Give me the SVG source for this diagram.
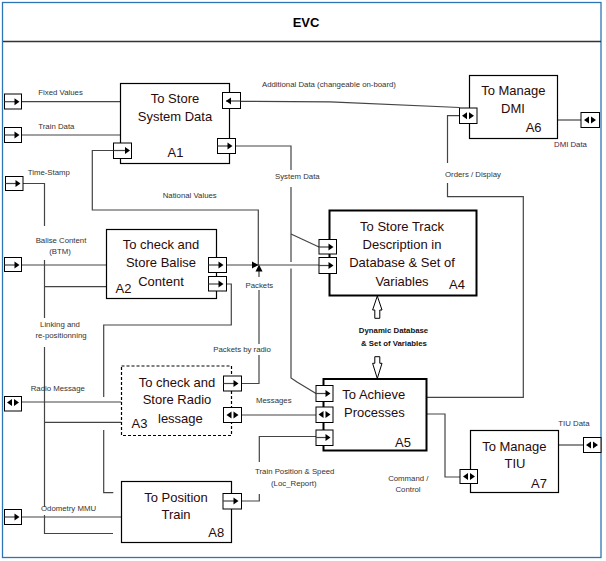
<svg xmlns="http://www.w3.org/2000/svg" xmlns:xlink="http://www.w3.org/1999/xlink" width="606" height="561" viewBox="0 0 606 561">
<style>
.box{fill:#fff;stroke:#000;stroke-width:1.2}
.thick{stroke-width:2}
.dash{stroke-dasharray:3,2}
.t{font-family:"Liberation Sans",Arial,sans-serif;font-size:13px;fill:#2a0a0a}
.tm{text-anchor:middle}
.lab{font-family:"Liberation Sans",Arial,sans-serif;font-size:7.8px;fill:#333}
.bold{font-weight:bold;fill:#111}
.con{fill:none;stroke:#444;stroke-width:1.2}
.port{fill:#fff;stroke:#000;stroke-width:1}
.pl{stroke:#444;stroke-width:1.2}
.ah{fill:#000}
.hollow{fill:#fff;stroke:#000;stroke-width:1}
</style>
<defs>
<path id="tr" d="M-2.5,-3.5 L2.5,0 L-2.5,3.5Z"/>
<path id="tl" d="M2.5,-3.5 L-2.5,0 L2.5,3.5Z"/>
<path id="db" d="M-6,0 L-1,-3.5 L-1,3.5Z M6,0 L1,-3.5 L1,3.5Z"/>
</defs>
<rect x="0" y="0" width="606" height="561" fill="#fff"/>
<rect x="2.5" y="2.5" width="598.5" height="555" fill="none" stroke="#2e75b6" stroke-width="1.3"/>
<text x="306" y="27" class="t tm" style="font-weight:bold;fill:#000;font-size:13px">EVC</text>
<path d="M3,41.5 H601" stroke="#333" stroke-width="1.4"/>

<g id="connectors">
<path class="con" d="M21.5,101.7 H120"/>
<path class="con" d="M21.5,135 H120"/>
<path class="con" d="M23,183.5 H44.5 V226 M44.5,260 V318 M44.5,347 V507 M44.5,515 V533.5 H113"/>
<path class="con" d="M44.5,286.7 H106.5"/>
<path class="con" d="M44.5,422.3 H121.5"/>
<path class="con" d="M21.5,265 H106.5"/>
<path class="con" d="M21.5,402 H121.5"/>
<path class="con" d="M21.5,517 H121.5"/>
<path class="con" d="M113.5,150.5 H92.3 V210 H258.3 V265"/>
<path class="con" d="M226.5,265 H319"/>
<path class="ah" d="M252,261.5 L258.5,265 L252,268.5Z"/>
<path class="con" d="M241.5,383.5 H259 V355 M259,344 V290 M259,277 V270"/>
<path class="ah" d="M259,264.5 L262.5,271.5 L255.5,271.5Z"/>
<path class="con" d="M226.5,284 H231.3 V325 H103.7 V397 M103.7,430 V492.7 H113.3"/>
<path class="con" d="M240.5,101.3 L330,101.8 L459.5,107.5"/>
<path class="con" d="M235.5,146 H291 V170 M291,187 V262 M291,268.5 V378 L297,382 L316,393.5"/>
<path class="con" d="M291,234 L319,247"/>
<path class="con" d="M459.5,115.7 H447.5 V163 M447.5,183 V196.7 H523.3 V397.3 H426.7"/>
<path class="con" d="M557.3,120 H581"/>
<path class="con" d="M241.5,415 H316"/>
<path class="con" d="M241.5,501 H259.3 V494 M259.3,462 V436.5 H316"/>
<path class="con" d="M426.7,414 H445 V477 H460"/>
<path class="con" d="M558.7,445 H583.5"/>
<path class="hollow" d="M377.3,296 L382,310 L379.8,310 L379.8,318.3 L374.8,318.3 L374.8,310 L372.6,310Z"/>
<path class="hollow" d="M377.3,378.5 L382,363.3 L379.8,363.3 L379.8,356.7 L374.8,356.7 L374.8,363.3 L372.6,363.3Z"/>
</g>

<g id="A1">
<rect class="box" x="120.5" y="83.5" width="109" height="80"/>
<text class="t tm" x="175" y="102.7">To Store</text>
<text class="t tm" x="175" y="120.7">System Data</text>
<text class="t" x="167.5" y="157">A1</text>
<rect class="port" x="113.5" y="143" width="18" height="15.5"/><path class="pl" d="M113.5,150.5 H128"/><use href="#tr" x="127.5" y="150.5"/>
<rect class="port" x="222.5" y="92.5" width="18" height="16"/><path class="pl" d="M226,101 H240.5"/><use href="#tl" x="228.5" y="101"/>
<rect class="port" x="217.5" y="138.5" width="18" height="15"/><path class="pl" d="M217.5,146 H230"/><use href="#tr" x="230" y="146"/>
</g>

<g id="A2">
<rect class="box" x="106.5" y="229.5" width="110" height="69"/>
<text class="t tm" x="161" y="249.3">To check and</text>
<text class="t tm" x="161" y="267.3">Store Balise</text>
<text class="t tm" x="161" y="286">Content</text>
<text class="t" x="115.5" y="293.3">A2</text>
<rect class="port" x="208.5" y="257.5" width="18" height="15"/><path class="pl" d="M208.5,265 H221"/><use href="#tr" x="221" y="265"/>
<rect class="port" x="208.5" y="276.5" width="18" height="14.5"/><path class="pl" d="M208.5,284 H221"/><use href="#tr" x="221" y="284"/>
</g>

<g id="A3">
<rect class="box dash" x="121.5" y="366" width="110" height="69.5"/>
<text class="t tm" x="177" y="386.7">To check and</text>
<text class="t tm" x="177" y="404.3">Store Radio</text>
<text class="t" x="158" y="422.7">lessage</text>
<text class="t" x="131.5" y="428.3">A3</text>
<rect class="port" x="223.5" y="376" width="18" height="15"/><path class="pl" d="M223.5,383.5 H236"/><use href="#tr" x="236" y="383.5"/>
<rect class="port" x="223.5" y="407.5" width="18" height="15"/><use href="#db" x="232.5" y="415"/>
</g>

<g id="A4">
<rect class="box thick" x="329.5" y="210.5" width="147" height="85"/>
<text class="t tm" x="402" y="230.7">To Store Track</text>
<text class="t tm" x="402" y="249">Description in</text>
<text class="t tm" x="402" y="267">Database &amp; Set of</text>
<text class="t tm" x="402" y="285.7">Variables</text>
<text class="t" x="449" y="289">A4</text>
<rect class="port" x="319" y="239.5" width="17.5" height="14.5"/><path class="pl" d="M319,247 H331"/><use href="#tr" x="331" y="247"/>
<rect class="port" x="319" y="257.5" width="17.5" height="16"/><path class="pl" d="M319,265.5 H331"/><use href="#tr" x="331" y="265.5"/>
</g>

<g id="dyn">
<text class="lab bold tm" x="393.5" y="332.7">Dynamic Database</text>
<text class="lab bold tm" x="394" y="345.7">&amp; Set of Variables</text>
</g>

<g id="A5">
<rect class="box thick" x="323.5" y="379" width="103" height="71.5"/>
<text class="t" x="342.3" y="399">To Achieve</text>
<text class="t" x="344" y="417.3">Processes</text>
<text class="t" x="395" y="447.3">A5</text>
<rect class="port" x="316" y="385.5" width="17" height="16"/><path class="pl" d="M316,393.5 H328"/><use href="#tr" x="328" y="393.5"/>
<rect class="port" x="316" y="407" width="17" height="15.5"/><use href="#db" x="324.5" y="414.5"/>
<rect class="port" x="316" y="430" width="17" height="15.5"/><path class="pl" d="M316,437.5 H328"/><use href="#tr" x="328" y="437.5"/>
</g>

<g id="A6">
<rect class="box" x="469.5" y="75.5" width="88" height="63"/>
<text class="t tm" x="513.3" y="95">To Manage</text>
<text class="t" x="501" y="113.3">DMI</text>
<text class="t" x="525.7" y="131.7">A6</text>
<rect class="port" x="459.5" y="108" width="17.5" height="15.5"/><use href="#db" x="468" y="115.7"/>
<rect class="port" x="581" y="112.5" width="18.5" height="15"/><use href="#db" x="590" y="120"/>
</g>

<g id="A7">
<rect class="box" x="470.5" y="430.5" width="88" height="62"/>
<text class="t tm" x="514.3" y="450.7">To Manage</text>
<text class="t tm" x="515" y="468.3">TIU</text>
<text class="t" x="531" y="488.3">A7</text>
<rect class="port" x="460" y="469.5" width="17.5" height="14"/><use href="#db" x="469" y="476.5"/>
<rect class="port" x="583.5" y="437.5" width="17.5" height="15"/><use href="#db" x="592" y="445"/>
</g>

<g id="A8">
<rect class="box" x="121.5" y="481.5" width="110" height="61"/>
<text class="t tm" x="176" y="501.7">To Position</text>
<text class="t tm" x="176" y="519.3">Train</text>
<text class="t" x="208.3" y="537.3">A8</text>
<rect class="port" x="223" y="493.5" width="18.5" height="15.5"/><path class="pl" d="M223,501 H236"/><use href="#tr" x="236" y="501"/>
</g>

<g id="ext-ports">
<rect class="port" x="4.5" y="94" width="17" height="15"/><path class="pl" d="M4.5,101.7 H17"/><use href="#tr" x="17" y="101.7"/>
<rect class="port" x="4.5" y="127.5" width="17" height="15"/><path class="pl" d="M4.5,135 H17"/><use href="#tr" x="17" y="135"/>
<rect class="port" x="5.5" y="176.5" width="17.5" height="14"/><path class="pl" d="M5.5,183.5 H18"/><use href="#tr" x="18" y="183.5"/>
<rect class="port" x="4.5" y="257.5" width="17" height="14"/><path class="pl" d="M4.5,265 H17"/><use href="#tr" x="17" y="265"/>
<rect class="port" x="4.5" y="396.5" width="17" height="14.5"/><use href="#db" x="13" y="402.5"/>
<rect class="port" x="4.5" y="509.5" width="17" height="15"/><path class="pl" d="M4.5,517 H17"/><use href="#tr" x="17" y="517"/>
</g>

<g id="labels">
<text class="lab" x="38.3" y="95">Fixed Values</text>
<text class="lab" x="38.3" y="128.5">Train Data</text>
<text class="lab" x="27.7" y="175">Time-Stamp</text>
<text class="lab tm" x="61" y="242.7">Balise Content</text>
<text class="lab tm" x="60" y="254">(BTM)</text>
<text class="lab tm" x="60" y="326.7">Linking and</text>
<text class="lab tm" x="61" y="337.7">re-positionning</text>
<text class="lab" x="30.7" y="390.7">Radio Message</text>
<text class="lab" x="41" y="511">Odometry MMU</text>
<text class="lab" x="162.7" y="197.5">National Values</text>
<text class="lab" x="275" y="179.3">System Data</text>
<text class="lab" x="262" y="87.3">Additional Data (changeable on-board)</text>
<text class="lab" x="445" y="176.7">Orders / Display</text>
<text class="lab" x="554" y="146.7" style="fill:#4a1850">DMI Data</text>
<text class="lab" x="245.5" y="287.8">Packets</text>
<text class="lab" x="213.3" y="351.7">Packets by radio</text>
<text class="lab" x="256" y="402.7">Messages</text>
<text class="lab" x="255" y="474">Train Position &amp; Speed</text>
<text class="lab" x="271" y="486">(Loc_Report)</text>
<text class="lab tm" x="408.3" y="480.7">Command /</text>
<text class="lab tm" x="408" y="492.3">Control</text>
<text class="lab" x="558.3" y="426">TIU Data</text>
</g>
</svg>
